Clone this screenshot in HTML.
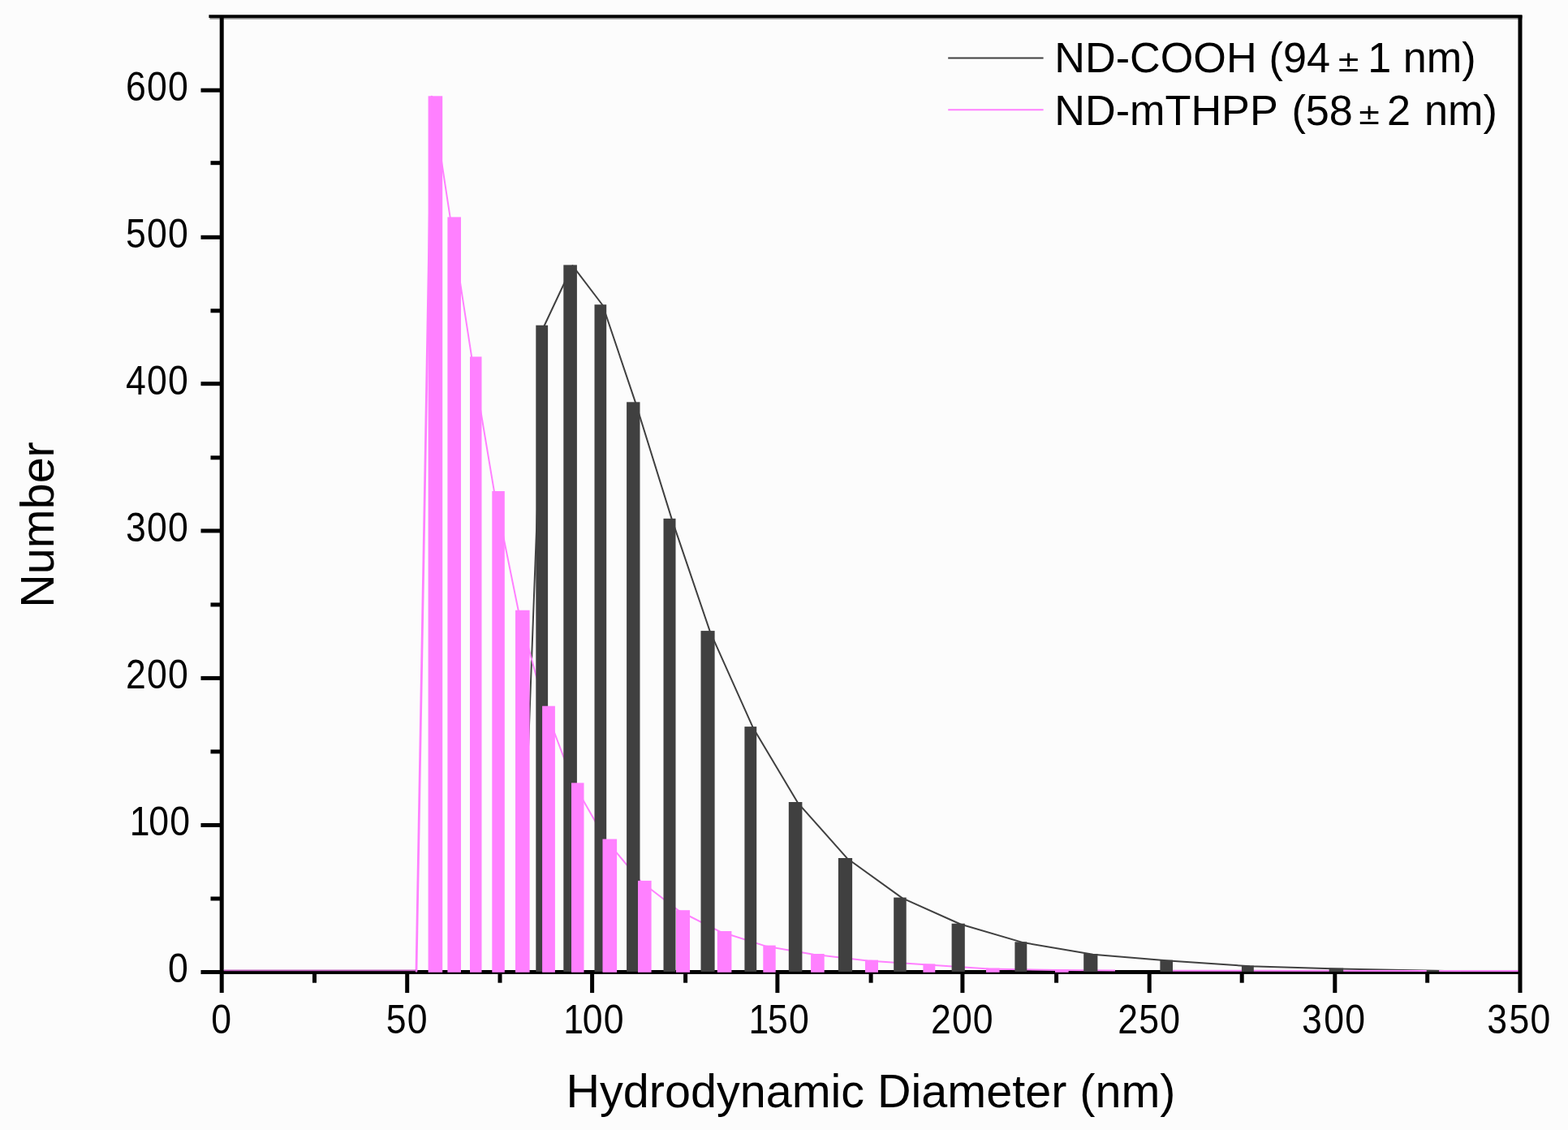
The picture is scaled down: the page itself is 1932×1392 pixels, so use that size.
<!DOCTYPE html>
<html lang="en">
<head>
<meta charset="utf-8">
<title>Hydrodynamic Diameter distribution</title>
<style>
html,body{margin:0;padding:0;background:#fcfcfc;}
body{width:1932px;height:1392px;overflow:hidden;}
svg{display:block;}
text{font-family:"Liberation Sans",sans-serif;fill:#000;}
.tick{font-size:50.1px;letter-spacing:1.3px;}
.title{font-size:57.5px;letter-spacing:0.0px;}
.leg{font-size:52.2px;letter-spacing:0.0px;}
.pm{font-family:"DejaVu Sans","Liberation Sans",sans-serif;font-size:36.0px;}
</style>
</head>
<body>
<svg width="1932" height="1392" viewBox="0 0 1932 1392">
<rect x="0" y="0" width="1932" height="1392" fill="#fcfcfc"/>

<g id="frame" stroke="#000" stroke-width="5.00" fill="none" stroke-linecap="butt">
<line x1="273.2" y1="18.9" x2="273.2" y2="1223.1"/>
<line x1="1873.0" y1="18.9" x2="1873.0" y2="1223.1"/>
<line x1="247.5" y1="1197.5" x2="1873.0" y2="1197.5"/>
</g>
<line x1="257.4" y1="20.1" x2="1875.5" y2="20.1" stroke="#000" stroke-width="3.7"/>
<line x1="258.4" y1="22.8" x2="1875.5" y2="22.8" stroke="#000" stroke-opacity="0.45" stroke-width="1.8"/>
<g id="ticks" stroke="#000" stroke-width="5">
<line x1="259.5" y1="1107.0" x2="273.2" y2="1107.0"/>
<line x1="247.5" y1="1016.5" x2="273.2" y2="1016.5"/>
<line x1="259.5" y1="925.9" x2="273.2" y2="925.9"/>
<line x1="247.5" y1="835.4" x2="273.2" y2="835.4"/>
<line x1="259.5" y1="744.9" x2="273.2" y2="744.9"/>
<line x1="247.5" y1="653.9" x2="273.2" y2="653.9"/>
<line x1="259.5" y1="563.8" x2="273.2" y2="563.8"/>
<line x1="247.5" y1="472.7" x2="273.2" y2="472.7"/>
<line x1="259.5" y1="382.8" x2="273.2" y2="382.8"/>
<line x1="247.5" y1="292.3" x2="273.2" y2="292.3"/>
<line x1="259.5" y1="200.7" x2="273.2" y2="200.7"/>
<line x1="247.5" y1="111.2" x2="273.2" y2="111.2"/>
<line x1="387.5" y1="1197.5" x2="387.5" y2="1210.7"/>
<line x1="501.7" y1="1197.5" x2="501.7" y2="1223.1"/>
<line x1="616.0" y1="1197.5" x2="616.0" y2="1210.7"/>
<line x1="729.6" y1="1197.5" x2="729.6" y2="1223.1"/>
<line x1="844.6" y1="1197.5" x2="844.6" y2="1210.7"/>
<line x1="957.9" y1="1197.5" x2="957.9" y2="1223.1"/>
<line x1="1073.1" y1="1197.5" x2="1073.1" y2="1210.7"/>
<line x1="1185.9" y1="1197.5" x2="1185.9" y2="1223.1"/>
<line x1="1301.6" y1="1197.5" x2="1301.6" y2="1210.7"/>
<line x1="1416.2" y1="1197.5" x2="1416.2" y2="1223.1"/>
<line x1="1530.2" y1="1197.5" x2="1530.2" y2="1210.7"/>
<line x1="1644.8" y1="1197.5" x2="1644.8" y2="1223.1"/>
<line x1="1758.7" y1="1197.5" x2="1758.7" y2="1210.7"/>
</g>
<polyline id="line-cooh" fill="none" stroke="#404040" stroke-width="2.0" stroke-linejoin="round" points="640.6,1196.5 670.5,401.5 705.4,327.2 742.6,376.0 783.1,496.1 827.8,639.6 874.8,777.9 927.6,895.9 982.9,988.8 1044.3,1057.8 1111.8,1106.4 1183.5,1138.5 1260.6,1161.1 1346.6,1175.8 1440.0,1183.5 1540.1,1190.3 1649.2,1193.4 1768.2,1195.8 1800.0,1196.2"/>
<line id="rise-mthpp" x1="513.0" y1="1196.2" x2="531.9" y2="119.1" stroke="#ff80ff" stroke-width="2.8" stroke-linecap="round"/>
<polyline id="line-mthpp" fill="none" stroke="#ff80ff" stroke-width="2.0" stroke-linejoin="round" points="531.9,119.1 554.7,268.2 581.2,440.2 609.0,605.8 638.8,752.5 671.0,870.5 706.8,965.2 746.3,1034.4 789.3,1085.7 836.5,1122.0 887.6,1147.8 943.0,1165.4 1002.4,1175.8 1069.0,1183.4 1139.8,1188.2 1218.3,1193.4 1303.3,1195.1 1374.0,1195.4"/>
<line id="tail-mthpp" x1="1445" y1="1195.8" x2="1870.5" y2="1196.0" stroke="#ff80ff" stroke-width="2.0"/>
<line id="zero-mthpp" x1="275.7" y1="1195.4" x2="512.5" y2="1195.4" stroke="#b85ab6" stroke-width="1.8"/>
<g id="bars-cooh" fill="#404040">
<rect x="660.3" y="400.7" width="14.8" height="796.3"/>
<rect x="694.3" y="326.4" width="16.6" height="870.6"/>
<rect x="732.5" y="375.2" width="14.7" height="821.8"/>
<rect x="772.1" y="495.3" width="16.4" height="701.7"/>
<rect x="817.5" y="638.8" width="15.0" height="558.2"/>
<rect x="863.5" y="777.1" width="17.1" height="419.9"/>
<rect x="917.4" y="895.1" width="14.8" height="301.9"/>
<rect x="971.8" y="988.0" width="16.6" height="209.0"/>
<rect x="1032.9" y="1057.0" width="17.2" height="140.0"/>
<rect x="1101.2" y="1105.6" width="15.5" height="91.4"/>
<rect x="1172.6" y="1137.7" width="16.2" height="59.3"/>
<rect x="1250.4" y="1160.3" width="14.9" height="36.7"/>
<rect x="1335.2" y="1175.0" width="17.2" height="22.0"/>
<rect x="1429.4" y="1182.7" width="15.6" height="14.3"/>
<rect x="1529.9" y="1189.5" width="14.9" height="7.5"/>
<rect x="1637.6" y="1192.6" width="17.6" height="4.4"/>
<rect x="1757.7" y="1195.0" width="15.5" height="2.0"/>
</g>
<g id="bars-mthpp" fill="#ff80ff">
<rect x="527.6" y="118.3" width="17.6" height="1079.5"/>
<rect x="551.4" y="267.4" width="16.6" height="930.4"/>
<rect x="579.0" y="439.4" width="14.5" height="758.4"/>
<rect x="606.3" y="605.0" width="15.5" height="592.8"/>
<rect x="635.0" y="751.7" width="17.6" height="446.1"/>
<rect x="668.1" y="869.7" width="15.8" height="328.1"/>
<rect x="704.0" y="964.4" width="15.5" height="233.4"/>
<rect x="742.5" y="1033.6" width="17.6" height="164.2"/>
<rect x="786.0" y="1084.9" width="16.6" height="112.9"/>
<rect x="833.0" y="1121.2" width="17.0" height="76.6"/>
<rect x="883.8" y="1147.0" width="17.6" height="50.8"/>
<rect x="940.3" y="1164.6" width="15.4" height="33.2"/>
<rect x="999.1" y="1175.0" width="16.6" height="22.8"/>
<rect x="1066.0" y="1182.6" width="16.0" height="15.2"/>
<rect x="1137.4" y="1187.4" width="14.9" height="10.4"/>
<rect x="1215.0" y="1192.6" width="16.6" height="5.2"/>
<rect x="1300.0" y="1194.3" width="16.6" height="3.5"/>
</g>
<g id="ylabels">
<text id="y0" class="tick" text-anchor="end" transform="translate(232.90 1210.20) scale(0.89 1)">0</text>
<text id="y100" class="tick" text-anchor="end" transform="translate(232.90 1029.15) scale(0.89 1)"><tspan dx="2.6">1</tspan><tspan dx="-2.6">00</tspan></text>
<text id="y200" class="tick" text-anchor="end" transform="translate(232.90 848.11) scale(0.89 1)">200</text>
<text id="y300" class="tick" text-anchor="end" transform="translate(232.90 667.06) scale(0.89 1)">300</text>
<text id="y400" class="tick" text-anchor="end" transform="translate(232.90 486.02) scale(0.89 1)">400</text>
<text id="y500" class="tick" text-anchor="end" transform="translate(232.90 304.97) scale(0.89 1)">500</text>
<text id="y600" class="tick" text-anchor="end" transform="translate(232.90 123.92) scale(0.89 1)">600</text>
</g>
<g id="xlabels">
<text id="x0" class="tick" text-anchor="middle" transform="translate(273.20 1273.10) scale(0.89 1)">0</text>
<text id="x50" class="tick" text-anchor="middle" transform="translate(501.74 1273.10) scale(0.89 1)">50</text>
<text id="x100" class="tick" text-anchor="middle" transform="translate(729.59 1273.10) scale(0.89 1)"><tspan dx="2.6">1</tspan><tspan dx="-2.6">00</tspan></text>
<text id="x150" class="tick" text-anchor="middle" transform="translate(957.93 1273.10) scale(0.89 1)"><tspan dx="2.6">1</tspan><tspan dx="-2.6">50</tspan></text>
<text id="x200" class="tick" text-anchor="middle" transform="translate(1185.87 1273.10) scale(0.89 1)">200</text>
<text id="x250" class="tick" text-anchor="middle" transform="translate(1416.21 1273.10) scale(0.89 1)">250</text>
<text id="x300" class="tick" text-anchor="middle" transform="translate(1644.76 1273.10) scale(0.89 1)"><tspan dx="-1.3">3</tspan><tspan dx="1.3">00</tspan></text>
<text id="x350" class="tick" text-anchor="middle" transform="translate(1873.00 1273.10) scale(0.89 1)"><tspan dx="-1.3">3</tspan><tspan dx="1.3">50</tspan></text>
</g>
<text id="xtitle" class="title" text-anchor="middle" transform="translate(1073.00 1364.20)">Hydrodynamic Diameter (nm)</text>
<text id="ytitle" class="title" text-anchor="middle" transform="translate(66.10 646.50) rotate(-90)">Number</text>
<line x1="1168.2" y1="71.4" x2="1285.6" y2="71.4" stroke="#404040" stroke-width="2"/>
<line x1="1168.2" y1="135.2" x2="1285.6" y2="135.2" stroke="#ff80ff" stroke-width="2"/>
<text id="leg1" class="leg" text-anchor="start" transform="translate(1299.30 89.00)">ND-COOH <tspan dx="0.4">(94</tspan> <tspan class="pm" dx="-7.0" dy="-1.4">±</tspan><tspan dx="-6.0" dy="1.4"> 1</tspan><tspan dx="0.0"> nm)</tspan></text>
<text id="leg2" class="leg" text-anchor="start" transform="translate(1299.30 154.20)">ND-mTHPP <tspan dx="3.2">(58</tspan> <tspan class="pm" dx="-9.5" dy="-1.4">±</tspan><tspan dx="-7.5" dy="1.4"> 2</tspan><tspan dx="2.5"> nm)</tspan></text>
</svg>
</body>
</html>
